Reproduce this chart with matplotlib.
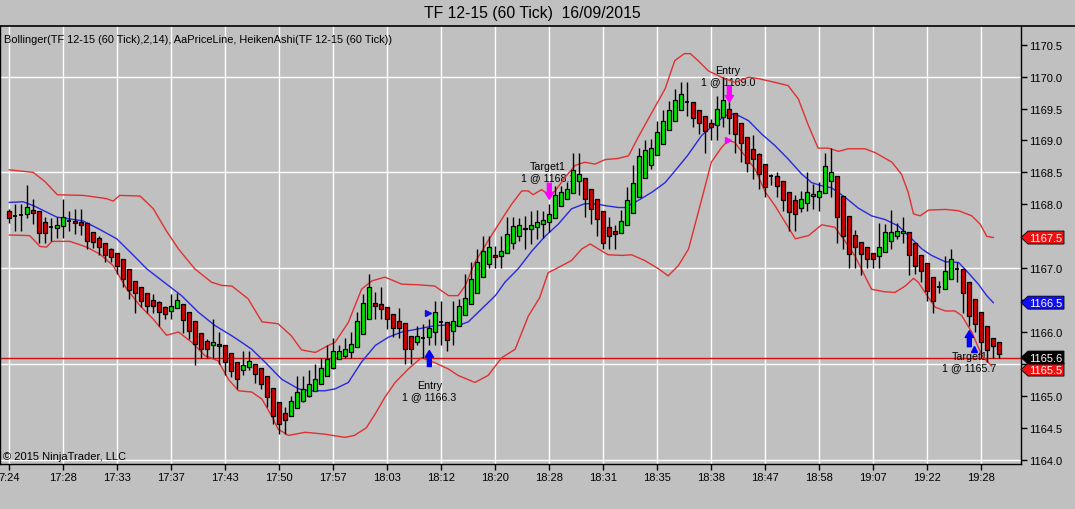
import numpy as np
import matplotlib
matplotlib.use("Agg")
import matplotlib.pyplot as plt
from matplotlib.lines import Line2D
from matplotlib.patches import Polygon
import matplotlib.transforms as mtransforms

plt.rcParams['font.family'] = ['Liberation Sans', 'DejaVu Sans']

# Heiken Ashi bars (open, high, low, close)
opens = [1167.90, 1167.82, 1167.83, 1167.85, 1167.91, 1167.89, 1167.72, 1167.65, 1167.63, 1167.66,
         1167.74, 1167.74, 1167.72, 1167.70, 1167.56, 1167.48, 1167.40, 1167.30, 1167.23, 1167.14,
         1166.99, 1166.80, 1166.70, 1166.61, 1166.50, 1166.47, 1166.39, 1166.33, 1166.37, 1166.44,
         1166.31, 1166.17, 1165.99, 1165.86, 1165.79, 1165.82, 1165.79, 1165.67, 1165.53, 1165.41,
         1165.45, 1165.50, 1165.43, 1165.31, 1165.13, 1164.91, 1164.73, 1164.69, 1164.81, 1164.92,
         1165.00, 1165.08, 1165.19, 1165.31, 1165.44, 1165.58, 1165.63, 1165.68, 1165.76, 1165.97,
         1166.20, 1166.45, 1166.44, 1166.39, 1166.29, 1166.18, 1166.14, 1165.93, 1165.85, 1165.90,
         1165.92, 1166.00, 1166.15, 1166.15, 1166.02, 1166.10, 1166.26, 1166.44, 1166.61, 1166.86,
         1167.07, 1167.21, 1167.19, 1167.24, 1167.39, 1167.51, 1167.61, 1167.61, 1167.64, 1167.69,
         1167.72, 1167.78, 1167.98, 1168.08, 1168.18, 1168.37, 1168.42, 1168.24, 1168.08, 1167.89,
         1167.64, 1167.59, 1167.55, 1167.67, 1167.86, 1168.11, 1168.42, 1168.61, 1168.77, 1168.95,
         1169.17, 1169.31, 1169.48, 1169.60, 1169.60, 1169.48, 1169.38, 1169.27, 1169.24, 1169.36,
         1169.50, 1169.43, 1169.27, 1169.06, 1168.87, 1168.79, 1168.63, 1168.45, 1168.44, 1168.37,
         1168.20, 1168.06, 1167.95, 1168.02, 1168.13, 1168.12, 1168.18, 1168.37, 1168.44, 1168.13,
         1167.81, 1167.52, 1167.41, 1167.33, 1167.24, 1167.19, 1167.26, 1167.42, 1167.50, 1167.55,
         1167.57, 1167.39, 1167.20, 1167.08, 1166.86, 1166.70, 1166.68, 1166.83, 1166.98, 1166.98,
         1166.79, 1166.51, 1166.31, 1166.09, 1165.90, 1165.84]
highs = [1167.93, 1168.00, 1168.00, 1168.30, 1168.09, 1167.89, 1167.80, 1167.78, 1167.80, 1168.09,
         1167.90, 1167.92, 1167.92, 1167.70, 1167.57, 1167.50, 1167.40, 1167.31, 1167.23, 1167.14,
         1166.99, 1166.80, 1166.70, 1166.61, 1166.60, 1166.49, 1166.41, 1166.60, 1166.61, 1166.44,
         1166.31, 1166.17, 1165.99, 1165.89, 1166.20, 1166.00, 1165.79, 1165.67, 1165.53, 1165.70,
         1165.70, 1165.50, 1165.43, 1165.31, 1165.13, 1164.91, 1164.82, 1165.00, 1165.31, 1165.31,
         1165.40, 1165.50, 1165.60, 1165.80, 1165.90, 1165.80, 1165.90, 1166.00, 1166.31, 1166.60,
         1166.91, 1166.62, 1166.70, 1166.39, 1166.29, 1166.37, 1166.14, 1165.93, 1166.10, 1166.13,
         1166.20, 1166.49, 1166.49, 1166.15, 1166.49, 1166.52, 1166.91, 1167.09, 1167.30, 1167.50,
         1167.50, 1167.35, 1167.50, 1167.80, 1167.80, 1167.78, 1167.81, 1167.90, 1167.91, 1167.90,
         1168.00, 1168.29, 1168.29, 1168.35, 1168.80, 1168.80, 1168.42, 1168.24, 1168.08, 1167.89,
         1167.80, 1167.67, 1167.91, 1168.27, 1168.62, 1168.89, 1169.01, 1169.02, 1169.31, 1169.47,
         1169.62, 1169.81, 1169.91, 1169.91, 1169.60, 1169.48, 1169.38, 1169.34, 1169.70, 1169.99,
         1169.87, 1169.43, 1169.27, 1169.06, 1169.09, 1168.80, 1168.63, 1168.47, 1168.50, 1168.37,
         1168.20, 1168.14, 1168.21, 1168.50, 1168.32, 1168.35, 1168.80, 1168.89, 1168.44, 1168.13,
         1167.81, 1167.60, 1167.41, 1167.33, 1167.24, 1167.71, 1167.69, 1167.91, 1167.71, 1167.80,
         1167.57, 1167.39, 1167.20, 1167.08, 1166.86, 1166.80, 1167.19, 1167.30, 1167.09, 1166.98,
         1166.79, 1166.51, 1166.31, 1166.09, 1165.90, 1165.84]
lows = [1167.71, 1167.59, 1167.59, 1167.78, 1167.69, 1167.40, 1167.40, 1167.42, 1167.48, 1167.48,
        1167.59, 1167.54, 1167.52, 1167.30, 1167.31, 1167.20, 1167.09, 1167.09, 1166.91, 1166.70,
        1166.51, 1166.30, 1166.39, 1166.30, 1166.30, 1166.10, 1166.20, 1166.20, 1166.37, 1165.99,
        1165.89, 1165.49, 1165.60, 1165.59, 1165.60, 1165.50, 1165.32, 1165.29, 1165.10, 1165.32,
        1165.40, 1165.20, 1165.11, 1164.82, 1164.56, 1164.40, 1164.40, 1164.69, 1164.81, 1164.90,
        1164.98, 1165.08, 1165.19, 1165.31, 1165.42, 1165.58, 1165.60, 1165.60, 1165.76, 1165.97,
        1166.20, 1166.20, 1166.20, 1166.05, 1165.92, 1165.90, 1165.50, 1165.50, 1165.79, 1165.60,
        1165.79, 1165.79, 1165.79, 1165.71, 1165.79, 1166.10, 1166.26, 1166.44, 1166.61, 1166.86,
        1167.01, 1167.00, 1167.00, 1167.24, 1167.30, 1167.42, 1167.30, 1167.38, 1167.46, 1167.48,
        1167.56, 1167.78, 1167.98, 1168.08, 1168.18, 1168.14, 1167.80, 1167.69, 1167.51, 1167.30,
        1167.30, 1167.30, 1167.55, 1167.67, 1167.86, 1168.11, 1168.42, 1168.55, 1168.77, 1168.95,
        1169.17, 1169.31, 1169.48, 1169.39, 1169.21, 1169.10, 1168.80, 1169.00, 1169.00, 1169.21,
        1169.10, 1168.80, 1168.66, 1168.50, 1168.40, 1168.24, 1168.11, 1168.30, 1168.11, 1167.90,
        1167.59, 1167.59, 1167.88, 1167.90, 1167.93, 1167.90, 1168.18, 1168.11, 1167.40, 1167.30,
        1167.00, 1167.00, 1166.89, 1167.00, 1167.00, 1167.00, 1167.26, 1167.30, 1167.46, 1167.40,
        1166.89, 1166.91, 1166.79, 1166.49, 1166.30, 1166.61, 1166.68, 1166.83, 1166.79, 1166.30,
        1166.10, 1166.00, 1165.60, 1165.53, 1165.60, 1165.60]
closes = [1167.78, 1167.82, 1167.83, 1167.96, 1167.87, 1167.55, 1167.55, 1167.64, 1167.67, 1167.80,
          1167.74, 1167.70, 1167.67, 1167.42, 1167.41, 1167.33, 1167.21, 1167.17, 1167.03, 1166.83,
          1166.66, 1166.61, 1166.49, 1166.41, 1166.41, 1166.32, 1166.28, 1166.40, 1166.50, 1166.19,
          1166.02, 1165.82, 1165.74, 1165.73, 1165.85, 1165.78, 1165.53, 1165.39, 1165.27, 1165.49,
          1165.55, 1165.35, 1165.19, 1164.98, 1164.69, 1164.56, 1164.62, 1164.92, 1165.06, 1165.11,
          1165.18, 1165.27, 1165.43, 1165.58, 1165.70, 1165.70, 1165.73, 1165.81, 1166.17, 1166.45,
          1166.70, 1166.40, 1166.36, 1166.20, 1166.07, 1166.07, 1165.73, 1165.74, 1165.94, 1165.90,
          1166.07, 1166.32, 1166.15, 1165.87, 1166.17, 1166.40, 1166.53, 1166.83, 1167.09, 1167.27,
          1167.33, 1167.17, 1167.27, 1167.54, 1167.66, 1167.67, 1167.63, 1167.68, 1167.72, 1167.75,
          1167.85, 1168.15, 1168.20, 1168.24, 1168.54, 1168.47, 1168.08, 1167.93, 1167.77, 1167.40,
          1167.50, 1167.54, 1167.74, 1168.07, 1168.34, 1168.75, 1168.85, 1168.89, 1169.14, 1169.31,
          1169.47, 1169.64, 1169.73, 1169.60, 1169.35, 1169.27, 1169.15, 1169.21, 1169.50, 1169.64,
          1169.35, 1169.10, 1168.96, 1168.65, 1168.71, 1168.48, 1168.27, 1168.45, 1168.29, 1168.06,
          1167.88, 1167.85, 1168.09, 1168.20, 1168.16, 1168.21, 1168.60, 1168.50, 1167.80, 1167.51,
          1167.22, 1167.33, 1167.22, 1167.15, 1167.15, 1167.33, 1167.57, 1167.57, 1167.59, 1167.59,
          1167.20, 1167.03, 1166.95, 1166.65, 1166.49, 1166.70, 1166.95, 1167.15, 1166.98, 1166.61,
          1166.25, 1166.13, 1165.84, 1165.72, 1165.78, 1165.66]

# Bollinger(2,14) read at sampled bar positions
upper_x = [0, 4, 6, 8, 12.3, 16.2, 17.3, 18.4, 21.8, 24, 26.2, 28.2, 30.9, 33.7, 35.4, 37.1, 39.8,
           42.1, 44.8, 47.0, 48.7, 51.0, 53.2, 54.3, 56.5, 58.7, 60.4, 62.6, 65.4, 68.2, 70.9, 73.2,
           74.8, 76.0, 77.6, 79.8, 82.1, 83.7, 85.4, 86.5, 87.3, 88.7, 89.8, 90.9, 92.6, 94.3, 95.9,
           97.6, 99.3, 101.5, 103.2, 104.8, 107.1, 109.3, 110.9, 112.5, 113.5, 114.8, 116.5, 118.7,
           120.9, 123.2, 124.8, 127.6, 129.8, 131.5, 133.2, 134.8, 136.5, 138.2, 139.8, 142.6, 144.3,
           147.1, 148.7, 149.8, 150.7, 151.8, 153.2, 156.0, 158.2, 160.4, 161.8, 162.9, 164.0]
upper_y = [1168.54, 1168.50, 1168.35, 1168.15, 1168.14, 1168.09, 1168.05, 1168.14, 1168.13, 1167.93,
           1167.58, 1167.30, 1166.99, 1166.78, 1166.73, 1166.72, 1166.52, 1166.16, 1166.13, 1165.94,
           1165.72, 1165.68, 1165.79, 1165.84, 1166.15, 1166.67, 1166.80, 1166.86, 1166.75, 1166.74,
           1166.72, 1166.57, 1166.57, 1166.73, 1167.09, 1167.43, 1167.77, 1168.00, 1168.21, 1168.21,
           1168.15, 1168.23, 1168.16, 1168.20, 1168.42, 1168.61, 1168.66, 1168.63, 1168.70, 1168.72,
           1168.76, 1169.05, 1169.44, 1169.81, 1170.25, 1170.36, 1170.36, 1170.25, 1170.09, 1169.99,
           1169.91, 1169.99, 1169.97, 1169.91, 1169.86, 1169.65, 1169.23, 1168.88, 1168.88, 1168.83,
           1168.87, 1168.87, 1168.81, 1168.66, 1168.47, 1168.19, 1167.85, 1167.82, 1167.91, 1167.92,
           1167.90, 1167.82, 1167.69, 1167.50, 1167.48]
mid_x = [0, 2.3, 4, 7.9, 12.3, 15, 17.9, 20.7, 22.9, 25.1, 28.7, 31.5, 34.3, 37.1, 38.7, 40.4, 42.6,
         45.4, 48.2, 49.8, 52.6, 54.3, 56.5, 58.7, 61.0, 63.2, 65.4, 68.2, 70.9, 73.2, 74.8, 76.5,
         78.7, 81.0, 82.6, 84.8, 87.1, 89.3, 91.5, 93.7, 95.9, 97.6, 99.3, 101.5, 102.6, 104.8, 107.1,
         109.3, 110.9, 113.0, 115.4, 117.6, 119.3, 120.9, 123.2, 125.4, 127.6, 129.8, 132.0, 133.7,
         135.4, 137.0, 139.3, 141.5, 143.7, 146.0, 148.2, 150.4, 152.1, 153.7, 156.0, 158.2, 159.8,
         161.5, 162.9, 164.0]
mid_y = [1168.03, 1168.04, 1167.98, 1167.80, 1167.74, 1167.61, 1167.46, 1167.20, 1166.99, 1166.83,
         1166.57, 1166.31, 1166.10, 1165.94, 1165.84, 1165.73, 1165.53, 1165.26, 1165.11, 1165.08,
         1165.08, 1165.11, 1165.21, 1165.53, 1165.79, 1165.92, 1166.00, 1166.05, 1166.10, 1166.11,
         1166.10, 1166.16, 1166.36, 1166.57, 1166.78, 1166.99, 1167.27, 1167.50, 1167.69, 1167.93,
         1168.01, 1168.01, 1167.98, 1167.95, 1167.95, 1168.06, 1168.19, 1168.34, 1168.52, 1168.76,
         1169.08, 1169.26, 1169.39, 1169.42, 1169.31, 1169.10, 1168.92, 1168.71, 1168.48, 1168.34,
         1168.29, 1168.26, 1168.11, 1167.94, 1167.82, 1167.76, 1167.66, 1167.46, 1167.30, 1167.20,
         1167.10, 1167.09, 1166.93, 1166.75, 1166.57, 1166.46]
low_x = [0, 3.4, 5.1, 6.2, 7.1, 10.1, 12.9, 15.1, 17.3, 19.6, 21.8, 24, 26.2, 28.2, 30.4, 32.6, 34.8,
         36.5, 38.2, 40.4, 42.1, 43.7, 44.8, 46.5, 49.3, 52.6, 55.9, 57.5, 59.5, 61.0, 62.6, 64.3,
         66.5, 68.7, 70.9, 73.2, 74.8, 77.6, 79.8, 82.1, 84.3, 86.5, 88.4, 89.8, 91.5, 93.7, 95.4,
         96.8, 98.2, 99.8, 102.1, 103.7, 105.9, 108.2, 109.8, 111.5, 113.2, 115.4, 117.0, 118.7,
         119.8, 120.9, 122.6, 124.3, 126.0, 127.6, 129.3, 131.0, 133.2, 135.4, 137.6, 139.3, 141.0,
         143.7, 145.9, 147.6, 149.3, 150.7, 151.5, 152.6, 154.3, 156.0, 157.6, 158.7, 160.4, 162.1,
         163.7]
low_y = [1167.52, 1167.51, 1167.34, 1167.33, 1167.42, 1167.42, 1167.33, 1167.22, 1167.04, 1166.67,
         1166.41, 1166.20, 1165.95, 1166.00, 1165.84, 1165.63, 1165.55, 1165.26, 1165.08, 1165.06,
         1164.95, 1164.69, 1164.48, 1164.38, 1164.43, 1164.40, 1164.35, 1164.38, 1164.50, 1164.72,
         1164.98, 1165.21, 1165.42, 1165.60, 1165.52, 1165.42, 1165.32, 1165.21, 1165.32, 1165.60,
         1165.73, 1166.25, 1166.54, 1166.93, 1167.01, 1167.12, 1167.30, 1167.38, 1167.30, 1167.21,
         1167.20, 1167.21, 1167.12, 1166.99, 1166.88, 1167.04, 1167.30, 1168.08, 1168.66, 1168.89,
         1169.00, 1168.97, 1168.76, 1168.55, 1168.19, 1167.98, 1167.72, 1167.46, 1167.51, 1167.68,
         1167.64, 1167.42, 1167.18, 1166.67, 1166.63, 1166.62, 1166.72, 1166.84, 1166.78, 1166.62,
         1166.39, 1166.33, 1166.33, 1166.26, 1166.00, 1165.63, 1165.47]

time_labels = ['7:24', '17:28', '17:33', '17:37', '17:43', '17:50', '17:57', '18:03', '18:12', '18:20',
               '18:28', '18:31', '18:35', '18:38', '18:47', '18:58', '19:07', '19:22', '19:28']
last_price = 1165.6

# trade markers: (bar, price, text)
entry_long = (70, 1166.3, 'Entry\n1 @ 1166.3')
target_long = (90, 1168.1, 'Target1\n1 @ 1168.1')
entry_short = (120, 1169.0, 'Entry\n1 @ 1169.0')
target_short = (160, 1165.7, 'Target1\n1 @ 1165.7')

bg = '#C0C0C0'
fig = plt.figure(figsize=(10.75, 5.1), dpi=100, facecolor=bg)
ax = fig.add_axes([0, 45 / 510, 1021 / 1075, 438 / 510], facecolor=bg)

n = len(opens)
bars = np.arange(n)
o = np.array(opens); h = np.array(highs); l = np.array(lows); c = np.array(closes)

# grid
tick_pos = np.arange(len(time_labels)) * 9
for tp in tick_pos:
    ax.axvline(tp, color='white', lw=1, zorder=0)
for gy in np.arange(1164.0, 1170.6, 1.5):
    ax.axhline(gy, color='white', lw=1, zorder=0)

ax.axhline(last_price, color='#D01010', lw=1, zorder=1)

ax.plot(upper_x, upper_y, color='#E03030', lw=1, zorder=2)
ax.plot(low_x, low_y, color='#E03030', lw=1, zorder=2)
ax.plot(mid_x, mid_y, color='#2828E0', lw=1, zorder=2)

# candles
ax.vlines(bars, l, h, color='black', lw=1, zorder=3)
doji = np.abs(c - o) < 0.02
up = (c > o) & ~doji
dn = (c < o) & ~doji
ax.bar(bars[up], (c - o)[up], bottom=o[up], width=0.66, color='#00E400',
       edgecolor='black', linewidth=0.9, zorder=4)
ax.bar(bars[dn], (o - c)[dn], bottom=c[dn], width=0.66, color='#D80000',
       edgecolor='black', linewidth=0.9, zorder=4)
ax.hlines(o[doji], bars[doji] - 0.35, bars[doji] + 0.35, color='black', lw=1.3, zorder=4)


def arrow(bar, tip, tail, color):
    ax.annotate('', xy=(bar, tip), xytext=(bar, tail), zorder=6,
                arrowprops=dict(arrowstyle='simple,head_width=0.75,head_length=0.6,tail_width=0.35',
                                color=color, mutation_scale=8, shrinkA=0, shrinkB=0))


def label(bar, y_txt, txt):
    ax.text(bar, y_txt, txt, ha='center', va='center', fontsize=7.7, linespacing=1.15, zorder=1)


magenta = '#FF00FF'
blue = '#0000FF'
# long entry
arrow(entry_long[0], 1165.71, 1165.46, blue)
ax.plot(entry_long[0] - 0.3, entry_long[1], marker='>', color='#1010E0', ms=5, zorder=6)
label(entry_long[0], 1165.08, entry_long[2])
# long target
arrow(target_long[0], 1168.08, 1168.33, magenta)
label(target_long[0] - 0.2, 1168.52, target_long[2])
# short entry
arrow(entry_short[0], 1169.60, 1169.85, magenta)
ax.plot(entry_short[0] - 0.3, entry_short[1], marker='>', color=magenta, ms=5, zorder=6)
label(entry_short[0] - 0.2, 1170.02, entry_short[2])
# short target
arrow(target_short[0], 1166.02, 1165.77, blue)
ax.plot(target_short[0] + 0.7, 1165.74, marker='^', color=blue, ms=4, zorder=6)
label(target_short[0], 1165.54, target_short[2])

ax.set_xlim(-1.555, 168.61)
ax.set_ylim(1163.933, 1170.793)

ax.set_xticks(tick_pos)
ax.set_xticklabels(time_labels, fontsize=8)
ax.yaxis.tick_right()
yt = np.arange(1164.0, 1170.6, 0.5)
ax.set_yticks(yt)
# the 1165.5 label is hidden behind the price tags in the original
ax.set_yticklabels(['' if abs(v - 1165.5) < 1e-6 else f'{v:.1f}' for v in yt], fontsize=8)
ax.tick_params(axis='both', length=4, width=1, color='black', pad=2)
ax.spines['top'].set_visible(False)
for s in ['left', 'right', 'bottom']:
    ax.spines[s].set_linewidth(1)

# price tags on the right axis
trans = mtransforms.blended_transform_factory(ax.transAxes, ax.transData)
tw = 43 / 1021
tp_ = 7 / 1021
hh = 6.5 / 63.85


def tag(val, color, txt, y=None):
    y = val if y is None else y
    pts = [(1.0, y), (1.0 + tp_, y + hh), (1.0 + tw, y + hh), (1.0 + tw, y - hh), (1.0 + tp_, y - hh)]
    ax.add_patch(Polygon(pts, closed=True, transform=trans, facecolor=color, edgecolor='black',
                         lw=0.6, clip_on=False, zorder=10))
    ax.text(1.0 + tp_ + 0.001, y, txt, transform=trans, color='white', fontsize=8,
            ha='left', va='center', clip_on=False, zorder=11)


tag(upper_y[-1], '#F01010', f'{upper_y[-1]:.1f}')
tag(mid_y[-1], '#1010F0', f'{mid_y[-1]:.1f}')
# lower-band tag sits just under the last-price tag
tag(low_y[-1], '#F01010', f'{low_y[-1]:.1f}', y=last_price - 12 / 63.85)
tag(last_price, 'black', f'{last_price:.1f}')

fig.add_artist(Line2D([0, 1], [483 / 510, 483 / 510], color='black', lw=1.2, transform=fig.transFigure))
fig.text(0.4953, 0.974, 'TF 12-15 (60 Tick)  16/09/2015', ha='center', va='center', fontsize=11.3)
ax.text(0.004, 0.971, 'Bollinger(TF 12-15 (60 Tick),2,14), AaPriceLine, HeikenAshi(TF 12-15 (60 Tick))',
        transform=ax.transAxes, fontsize=7.9, ha='left', va='center', zorder=12)
ax.text(0.003, 0.018, '\u00a9 2015 NinjaTrader, LLC', transform=ax.transAxes, fontsize=8,
        ha='left', va='center', zorder=12)

fig.savefig('out.png', dpi=100, facecolor=bg)
